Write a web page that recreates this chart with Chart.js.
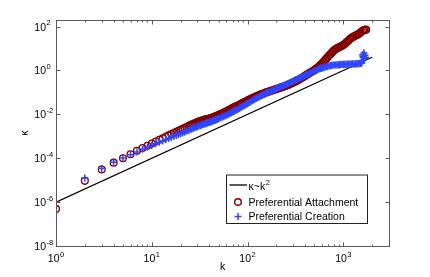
<!DOCTYPE html>
<html><head><meta charset="utf-8">
<script src="https://cdn.jsdelivr.net/npm/chart.js@4.4.1/dist/chart.umd.min.js"></script>
<style>html,body{margin:0;padding:0;background:#fff;}canvas{display:block;}</style>
</head><body>
<canvas id="c" width="430" height="277"></canvas>
<script>
// ---- data (log-log axes) ----
const sharedK = [1,2,3,4,5,6,7,8,9,10,11,12,13,14,15,16,17,18,19,20,
  21,22,23,24,25,26,27,28,29,30,31,32,33,34,35,36,37,38,39,40,
  41,42,43,44,45,46,47,48,49,50,
  52,54,56,58,60,62,64,66,68,70,72,74,76,
  79,82,85,88,91,94,97,100,103,106,
  110,114,118,122,126,130,134,138,142,147,
  152,157,162,167,172,178,184,190,196,202,
  208,215,222,229,236,244,252,260,268,277,
  286,295,304,314,324,334,345,356,367,379,
  391,403,416,429,443,457,472,487,502,518,
  535,552,570,588,607,626,646,667,688,710,
  733,756,780,805,831,858,885,913,942,972,
  1003,1035,1068,1102,1137,1173,1211,1250,1290,1331,
  1373,1417,1462,1509];
const paTailK = [1557,1607,1658,1711,1730];
const pcTailK = [1540,1557,1580,1600,1607,1620,1640,1658,1680,1700];

const paLogKappa = [-6.31,-5.03,-4.51,-4.20,-4.00,-3.82,-3.66,-3.53,-3.43,-3.33,
  -3.24,-3.16,-3.09,-3.02,-2.96,-2.90,-2.85,-2.80,-2.75,-2.70,
  -2.66,-2.62,-2.58,-2.54,-2.50,-2.47,-2.44,-2.41,-2.38,-2.35,
  -2.33,-2.31,-2.29,-2.27,-2.25,-2.24,-2.22,-2.21,-2.20,-2.19,
  -2.18,-2.16,-2.15,-2.13,-2.12,-2.10,-2.08,-2.06,-2.04,-2.03,
  -1.99,-1.96,-1.93,-1.90,-1.87,-1.83,-1.80,-1.77,-1.74,-1.71,-1.68,-1.66,-1.63,
  -1.60,-1.56,-1.53,-1.49,-1.46,-1.43,-1.40,-1.37,-1.34,-1.31,
  -1.28,-1.25,-1.22,-1.19,-1.16,-1.14,-1.11,-1.09,-1.07,-1.05,
  -1.02,-1.00,-0.98,-0.96,-0.94,-0.92,-0.90,-0.88,-0.86,-0.84,
  -0.82,-0.80,-0.78,-0.76,-0.74,-0.72,-0.70,-0.67,-0.65,-0.62,
  -0.59,-0.56,-0.54,-0.51,-0.48,-0.44,-0.41,-0.38,-0.34,-0.31,
  -0.27,-0.23,-0.19,-0.16,-0.12,-0.08,-0.05,-0.01,0.03,0.08,
  0.12,0.17,0.22,0.28,0.34,0.41,0.48,0.54,0.61,0.68,
  0.74,0.81,0.87,0.93,0.97,1.01,1.04,1.07,1.10,1.13,
  1.17,1.21,1.26,1.32,1.37,1.43,1.48,1.52,1.55,1.58,
  1.61,1.64,1.68,1.73,
  1.78,1.82,1.85,1.87,1.86];
const pcLogKappa = [-6.00,-4.90,-4.47,-4.18,-3.99,-3.84,-3.71,-3.59,-3.50,-3.42,
  -3.34,-3.27,-3.21,-3.15,-3.10,-3.05,-3.00,-2.96,-2.92,-2.88,
  -2.85,-2.81,-2.77,-2.74,-2.70,-2.67,-2.64,-2.61,-2.58,-2.56,
  -2.53,-2.51,-2.49,-2.47,-2.45,-2.43,-2.41,-2.39,-2.38,-2.36,
  -2.34,-2.33,-2.31,-2.29,-2.28,-2.26,-2.24,-2.23,-2.21,-2.19,
  -2.16,-2.13,-2.10,-2.07,-2.04,-2.01,-1.98,-1.95,-1.92,-1.89,-1.86,-1.83,-1.81,
  -1.77,-1.73,-1.69,-1.65,-1.61,-1.58,-1.54,-1.51,-1.47,-1.44,
  -1.40,-1.36,-1.32,-1.28,-1.25,-1.22,-1.19,-1.16,-1.13,-1.10,
  -1.07,-1.04,-1.01,-0.99,-0.97,-0.93,-0.91,-0.88,-0.85,-0.82,
  -0.80,-0.77,-0.75,-0.72,-0.70,-0.67,-0.64,-0.61,-0.59,-0.56,
  -0.53,-0.50,-0.48,-0.45,-0.42,-0.39,-0.36,-0.34,-0.31,-0.28,
  -0.25,-0.22,-0.19,-0.17,-0.14,-0.11,-0.08,-0.05,-0.03,0.00,
  0.03,0.06,0.08,0.10,0.12,0.14,0.16,0.18,0.19,0.21,
  0.22,0.23,0.24,0.25,0.25,0.26,0.26,0.27,0.27,0.28,
  0.28,0.28,0.28,0.29,0.29,0.29,0.29,0.30,0.30,0.30,
  0.30,0.31,0.31,0.32,
  0.33,0.36,0.45,0.72,0.65,0.60,0.80,0.55,0.70,0.60];
const paK = sharedK.concat(paTailK);
const pcK = sharedK.concat(pcTailK);
const refLineK = [1, 2000];
const refLineKappa = [1e-6, 4];
const xTickValues = [1, 10, 100, 1000];
const xTickExponents = ['0', '1', '2', '3'];
const yTickValues = [1e-8, 1e-6, 1e-4, 1e-2, 1, 100];
const yTickExponents = ['-8', '-6', '-4', '-2', '0', '2'];
const seriesLabels = ['κ~k^2', 'Preferential Attachment', 'Preferential Creation'];
const axisTitles = {x: 'k', y: 'κ'};

// ---- styling ----
const FONT = '"Liberation Sans", Arial, Helvetica, sans-serif';
const RED = '#800000';
const BLUE = '#2f45ff';

const toPoints = (ks, logs) => ks.map((k, i) => ({x: k, y: Math.pow(10, logs[i])}));

function drawSup(ctx, base, exp, x, yBase, baseSize, expSize, align) {
  ctx.font = baseSize + 'px ' + FONT;
  const wb = ctx.measureText(base).width;
  ctx.font = expSize + 'px ' + FONT;
  const we = ctx.measureText(exp).width;
  let start = x;
  if (align === 'center') start = x - (wb + we + 0.5) / 2;
  ctx.textAlign = 'left';
  ctx.textBaseline = 'alphabetic';
  ctx.font = baseSize + 'px ' + FONT;
  ctx.fillText(base, start, yBase);
  ctx.font = expSize + 'px ' + FONT;
  ctx.fillText(exp, start + wb + 0.5, yBase - 5);
}

const decorations = {
  id: 'decorations',
  afterDraw(chart) {
    const {ctx, chartArea: a, scales: {x, y}} = chart;
    ctx.save();
    const L = Math.round(a.left) + 0.5, R = Math.round(a.right) + 0.5;
    const T = Math.round(a.top) + 0.5, B = Math.round(a.bottom) + 0.5;
    ctx.strokeStyle = '#5a5a5a';
    ctx.lineWidth = 1;
    ctx.strokeRect(L, T, R - L, B - T);
    ctx.beginPath();
    for (let d = 1; d <= 1000; d *= 10) {
      for (let m = 1; m <= 9; m++) {
        const v = d * m;
        if (v > x.max) break;
        const px = Math.round(x.getPixelForValue(v)) + 0.5;
        const len = m === 1 ? 4 : 2;
        ctx.moveTo(px, B); ctx.lineTo(px, B - len);
        ctx.moveTo(px, T); ctx.lineTo(px, T + len);
      }
    }
    yTickValues.forEach(v => {
      const py = Math.round(y.getPixelForValue(v)) + 0.5;
      ctx.moveTo(L, py); ctx.lineTo(L + 4, py);
      ctx.moveTo(R, py); ctx.lineTo(R - 4, py);
    });
    ctx.stroke();

    ctx.fillStyle = '#000';
    xTickValues.forEach((v, i) => {
      const px = x.getPixelForValue(v);
      drawSup(ctx, '10', xTickExponents[i], px, B + 15.5, 10.5, 7.5, 'center');
    });
    yTickValues.forEach((v, i) => {
      const py = y.getPixelForValue(v);
      ctx.font = '10.5px ' + FONT;
      ctx.textAlign = 'right';
      ctx.textBaseline = 'alphabetic';
      ctx.fillText('10', L - 10.5, py + 4);
      ctx.font = '7.5px ' + FONT;
      ctx.textAlign = 'left';
      ctx.fillText(yTickExponents[i], L - 10, py - 1.5);
    });

    // legend
    const lx0 = Math.round(a.right - 22) + 0.5, lx1 = lx0 - 141;
    const ly1 = Math.round(a.bottom - 23.5) + 0.5, ly0 = ly1 - 48.5;
    ctx.fillStyle = '#fff';
    ctx.fillRect(lx1, ly0, lx0 - lx1, ly1 - ly0);
    ctx.strokeStyle = '#222';
    ctx.strokeRect(lx1, ly0, lx0 - lx1, ly1 - ly0);
    const rows = [ly0 + 11.5, ly0 + 27, ly0 + 41.5];
    const mx = lx1 + 11.5, tx = lx1 + 22;
    ctx.strokeStyle = '#000';
    ctx.lineWidth = 1.3;
    ctx.beginPath();
    ctx.moveTo(lx1 + 3, rows[0] - 1.5); ctx.lineTo(lx1 + 20.5, rows[0] - 1.5);
    ctx.stroke();
    ctx.strokeStyle = RED;
    ctx.lineWidth = 1.4;
    ctx.beginPath();
    ctx.arc(mx, rows[1], 3.3, 0, Math.PI * 2);
    ctx.stroke();
    ctx.strokeStyle = BLUE;
    ctx.lineWidth = 1.5;
    ctx.beginPath();
    ctx.moveTo(mx - 3.5, rows[2]); ctx.lineTo(mx + 3.5, rows[2]);
    ctx.moveTo(mx, rows[2] - 3.5); ctx.lineTo(mx, rows[2] + 3.5);
    ctx.stroke();
    ctx.fillStyle = '#000';
    const parts = seriesLabels[0].split('^');
    drawSup(ctx, parts[0], parts[1], tx, rows[0] + 3.8, 10.5, 7.5, 'left');
    ctx.font = '10.5px ' + FONT;
    ctx.textAlign = 'left';
    ctx.textBaseline = 'alphabetic';
    ctx.fillText(seriesLabels[1], tx, rows[1] + 3.8);
    ctx.fillText(seriesLabels[2], tx, rows[2] + 3.8);
    ctx.restore();
  }
};

new Chart(document.getElementById('c'), {
  type: 'scatter',
  data: {
    datasets: [
      {
        label: seriesLabels[0],
        data: toPoints(refLineK, refLineKappa.map(v => Math.log10(v))),
        showLine: true, borderColor: '#000', borderWidth: 1.3, pointRadius: 0, order: 2
      },
      {
        label: seriesLabels[1],
        data: toPoints(paK, paLogKappa),
        pointStyle: 'circle', pointRadius: 3.4, pointBorderWidth: 1.3,
        borderColor: RED, backgroundColor: 'rgba(0,0,0,0)', order: 1
      },
      {
        label: seriesLabels[2],
        data: toPoints(pcK, pcLogKappa),
        pointStyle: 'cross', pointRadius: 3.6, pointBorderWidth: 1.5,
        borderColor: BLUE, backgroundColor: BLUE, order: 0
      }
    ]
  },
  options: {
    responsive: false,
    animation: false,
    devicePixelRatio: 1,
    layout: {padding: {left: 0, top: 20, right: 41, bottom: 0}},
    plugins: {legend: {display: false}, tooltip: {enabled: false}},
    scales: {
      x: {
        type: 'logarithmic', min: 1, max: 3000,
        grid: {display: false}, border: {display: false},
        ticks: {display: false},
        afterBuildTicks: s => { s.ticks = xTickValues.map(v => ({value: v})); },
        afterFit: s => { s.height = 31; },
        title: {display: true, text: axisTitles.x, color: '#000',
          font: {family: FONT, size: 10.5}, padding: {top: 0, bottom: 3.5}}
      },
      y: {
        type: 'logarithmic', min: 1e-8, max: 200,
        grid: {display: false}, border: {display: false},
        ticks: {display: false},
        afterBuildTicks: s => { s.ticks = yTickValues.map(v => ({value: v})); },
        afterFit: s => { s.width = 56; },
        title: {display: true, text: axisTitles.y, color: '#000',
          font: {family: FONT, size: 10.5}, padding: {top: 18.5, bottom: 0}}
      }
    }
  },
  plugins: [decorations]
});
</script>
</body></html>
